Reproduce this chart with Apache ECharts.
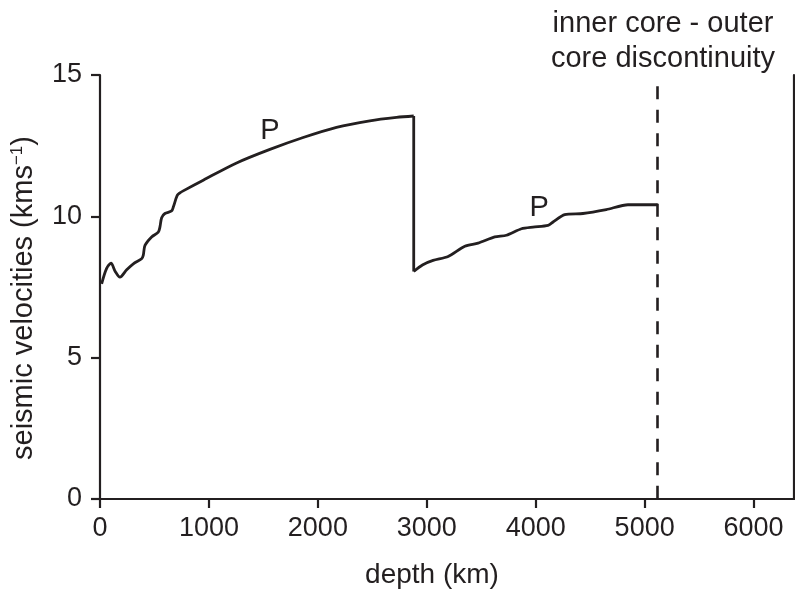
<!DOCTYPE html>
<html>
<head>
<meta charset="utf-8">
<script src="https://cdn.jsdelivr.net/npm/echarts@6/dist/echarts.min.js"></script>
<style>
html,body{margin:0;padding:0;background:#fff;}
#chart{width:795px;height:597px;}
</style>
</head>
<body>
<div id="chart"></div>
<script>
// Mantle P-wave velocity (depth km, velocity km/s)
var mantleDepth = [15, 60, 101, 140, 183, 245, 306, 382, 397, 413, 474, 535, 550, 566, 596, 657, 673, 709, 734, 764, 948, 1254, 1560, 1865, 2171, 2477, 2722, 2880];
var mantleVel   = [7.61, 8.15, 8.34, 8.05, 7.85, 8.11, 8.32, 8.50, 8.62, 8.97, 9.27, 9.44, 9.62, 9.95, 10.10, 10.19, 10.33, 10.74, 10.83, 10.90, 11.28, 11.89, 12.37, 12.79, 13.15, 13.38, 13.50, 13.55];
// Core-mantle boundary drop
var cmbDepth = [2880, 2880];
var cmbVel   = [13.55, 8.05];
// Outer core P-wave velocity
var coreDepth = [2880, 2960, 3058, 3196, 3349, 3471, 3624, 3731, 3869, 3975, 4113, 4159, 4266, 4434, 4648, 4847, 5120];
var coreVel   = [8.05, 8.28, 8.44, 8.58, 8.94, 9.05, 9.27, 9.33, 9.56, 9.62, 9.68, 9.80, 10.06, 10.10, 10.24, 10.41, 10.41];
// Inner/outer core discontinuity
var icbDepth = 5120;
var icbTop = 14.6;
// Labels
var pLabels = [[1560, 13.03], [4032, 10.30]];
var xTicks = [0, 1000, 2000, 3000, 4000, 5000, 6000];
var yTicks = [0, 5, 10, 15];
var xMax = 6371;
var annotation = 'inner core - outer\ncore discontinuity';

function zip(a, b) { return a.map(function (v, i) { return [v, b[i]]; }); }

var FONT = '"Liberation Sans", Arial, Helvetica, sans-serif';
var INK = '#231f20';
var chart = echarts.init(document.getElementById('chart'), null, {renderer: 'canvas'});

var lineStyle = {color: INK, width: 2.8};

chart.setOption({
  animation: false,
  backgroundColor: '#fff',
  textStyle: {fontFamily: FONT, color: INK},
  title: {
    text: annotation,
    left: 658, top: 1,
    textAlign: 'center',
    textStyle: {fontFamily: FONT, fontSize: 29, fontWeight: 'normal', color: INK, lineHeight: 35}
  },
  grid: {left: 100, right: 1, top: 75, bottom: 98, containLabel: false},
  xAxis: {
    type: 'value', min: 0, max: xMax,
    name: 'depth (km)', nameLocation: 'middle', nameGap: 62,
    nameTextStyle: {fontFamily: FONT, fontSize: 28, color: INK, padding: [0, 30, 0, 0]},
    axisLine: {show: true, lineStyle: {color: INK, width: 2.2}},
    axisTick: {show: true, inside: false, length: 9, customValues: xTicks, lineStyle: {color: INK, width: 2.2}},
    axisLabel: {show: true, margin: 16, customValues: xTicks, fontFamily: FONT, fontSize: 27, color: INK,
      formatter: function (v) { return String(v); }},
    splitLine: {show: false}
  },
  yAxis: [{
    type: 'value', min: 0, max: 15, interval: 5,
    name: 'seismic velocities (kms{sup|\u22121})', nameLocation: 'middle', nameGap: 62, nameRotate: 90,
    nameTextStyle: {fontFamily: FONT, fontSize: 29, color: INK, padding: [0, 22, 0, 0],
      rich: {sup: {fontFamily: FONT, fontSize: 17, color: INK, padding: [0, 0, 12, 0]}}},
    axisLine: {show: true, lineStyle: {color: INK, width: 2.2}},
    axisTick: {show: true, inside: false, length: 9, lineStyle: {color: INK, width: 2.2}},
    axisLabel: {show: true, margin: 18, fontFamily: FONT, fontSize: 27, color: INK},
    splitLine: {show: false}
  }, {
    type: 'value', min: 0, max: 15, position: 'right',
    axisLine: {show: true, lineStyle: {color: INK, width: 2.2}},
    axisTick: {show: false}, axisLabel: {show: false}, splitLine: {show: false}
  }],
  series: [{
    type: 'line', data: zip(mantleDepth, mantleVel), smooth: 0.3,
    symbol: 'none', lineStyle: lineStyle, silent: true,
    markPoint: {
      symbol: 'circle', symbolSize: 0,
      label: {show: true, formatter: 'P', position: 'inside', fontFamily: FONT, fontSize: 29, color: INK},
      data: pLabels.map(function (p) { return {coord: p}; })
    }
  }, {
    type: 'line', data: zip(cmbDepth, cmbVel), smooth: false,
    symbol: 'none', lineStyle: lineStyle, silent: true
  }, {
    type: 'line', data: zip(coreDepth, coreVel), smooth: 0.25,
    symbol: 'none', lineStyle: lineStyle, silent: true,
    markLine: {
      symbol: ['none', 'none'], silent: true, label: {show: false},
      lineStyle: {color: INK, width: 2.6, type: [13, 10.5]},
      data: [[{coord: [icbDepth, icbTop]}, {coord: [icbDepth, 0]}]]
    }
  }]
});
</script>
</body>
</html>
